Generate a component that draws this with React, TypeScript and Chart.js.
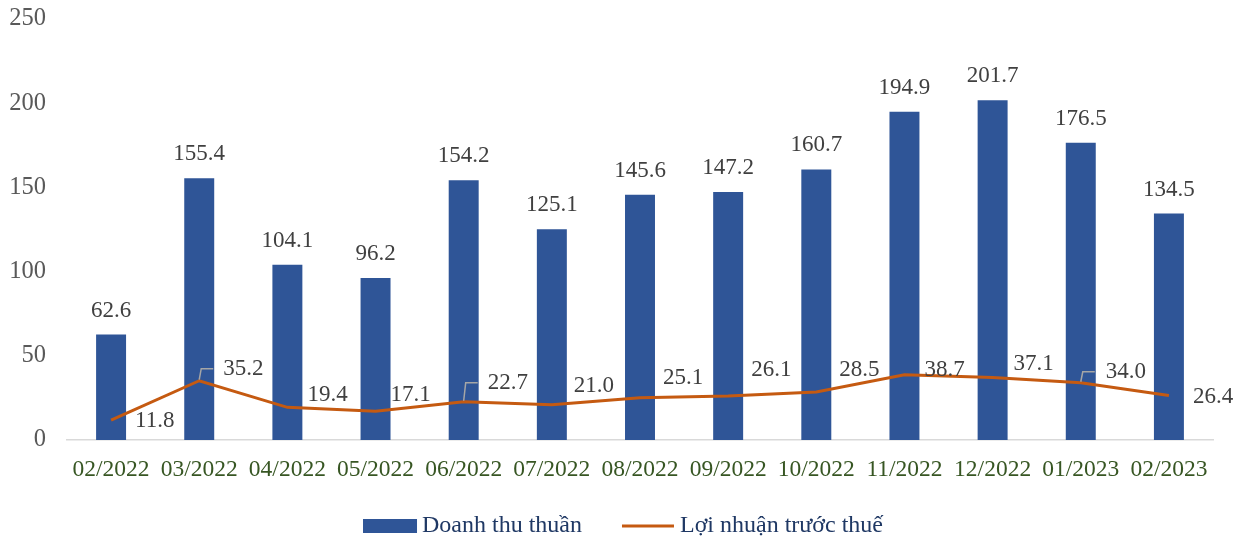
import React, { useEffect, useRef } from "react";
import { Chart, registerables } from "chart.js";

Chart.register(...registerables);

const months = ["02/2022", "03/2022", "04/2022", "05/2022", "06/2022", "07/2022", "08/2022", "09/2022", "10/2022", "11/2022", "12/2022", "01/2023", "02/2023"];
const revenue = [62.6, 155.4, 104.1, 96.2, 154.2, 125.1, 145.6, 147.2, 160.7, 194.9, 201.7, 176.5, 134.5];
const profit = [11.8, 35.2, 19.4, 17.1, 22.7, 21.0, 25.1, 26.1, 28.5, 38.7, 37.1, 34.0, 26.4];
const seriesNames = ["Doanh thu thuần", "Lợi nhuận trước thuế"];
const yTicks = [0, 50, 100, 150, 200, 250];

// label placement for the line series (offset from each point), and which have leader lines
const profitLabelDx = [24, 24, 20, 15, 24, 22, 23, 23, 23, 20, 21, 25, 24];
const profitLabelDy = [1, -12, -12, -16, -19, -19, -20, -26, -22, -5, -14, -11, 1];
const leaderIdx = [1, 4, 11];

const FONT = '"Liberation Serif", "Times New Roman", serif';
const BAR_COLOR = "#2F5597";
const LINE_COLOR = "#C55A11";

const labelPlugin = {
  id: "customLabels",
  afterDatasetsDraw(chart: any) {
    const ctx = chart.ctx;
    ctx.save();
    ctx.font = `23px ${FONT}`;
    ctx.fillStyle = "#404040";
    const barMeta = chart.getDatasetMeta(0);
    ctx.textAlign = "center";
    ctx.textBaseline = "middle";
    barMeta.data.forEach((el: any, i: number) => {
      ctx.fillText(revenue[i].toFixed(1), el.x, el.y - 24);
    });
    const lineMeta = chart.getDatasetMeta(1);
    ctx.textAlign = "left";
    lineMeta.data.forEach((el: any, i: number) => {
      const ly = el.y + profitLabelDy[i];
      if (leaderIdx.includes(i)) {
        ctx.strokeStyle = "#A6A6A6";
        ctx.lineWidth = 1.5;
        ctx.beginPath();
        ctx.moveTo(el.x, el.y - 1);
        ctx.lineTo(el.x + 2, ly);
        ctx.lineTo(el.x + 14, ly);
        ctx.stroke();
      }
      ctx.fillStyle = "#404040";
      ctx.fillText(profit[i].toFixed(1), el.x + profitLabelDx[i], ly);
    });
    ctx.restore();
  },
  afterDraw(chart: any) {
    const ctx = chart.ctx;
    ctx.save();
    ctx.font = `24px ${FONT}`;
    const w1 = ctx.measureText(seriesNames[0]).width;
    const w2 = ctx.measureText(seriesNames[1]).width;
    const boxW = 54, lineW = 52, gap1 = 5, gap2 = 6, spacing = 40;
    const total = boxW + gap1 + w1 + spacing + lineW + gap2 + w2;
    let x = (chart.width - total) / 2;
    const cy = 526;
    ctx.fillStyle = BAR_COLOR;
    ctx.fillRect(x, cy - 7, boxW, 14);
    x += boxW + gap1;
    ctx.fillStyle = "#1F3864";
    ctx.textAlign = "left";
    ctx.textBaseline = "middle";
    ctx.fillText(seriesNames[0], x, cy);
    x += w1 + spacing;
    ctx.strokeStyle = LINE_COLOR;
    ctx.lineWidth = 3;
    ctx.beginPath();
    ctx.moveTo(x, cy);
    ctx.lineTo(x + lineW, cy);
    ctx.stroke();
    x += lineW + gap2;
    ctx.fillText(seriesNames[1], x, cy);
    ctx.restore();
  },
};

export default function App() {
  const ref = useRef<HTMLCanvasElement>(null);
  useEffect(() => {
    document.body.style.margin = "0";
    if (!ref.current) return;
    const chart = new Chart(ref.current, {
      type: "bar",
      data: {
        labels: months,
        datasets: [
          {
            type: "bar",
            label: seriesNames[0],
            data: revenue,
            backgroundColor: BAR_COLOR,
            categoryPercentage: 1,
            barPercentage: 0.34,
            order: 2,
          },
          {
            type: "line",
            label: seriesNames[1],
            data: profit,
            borderColor: LINE_COLOR,
            backgroundColor: LINE_COLOR,
            borderWidth: 3,
            pointRadius: 0,
            tension: 0,
            order: 1,
          } as any,
        ],
      },
      options: {
        animation: false,
        responsive: false,
        maintainAspectRatio: false,
        layout: { padding: { top: 19, right: 33, bottom: 60, left: 0 } },
        plugins: { legend: { display: false }, tooltip: { enabled: false } },
        scales: {
          x: {
            grid: { display: false },
            border: { color: "#D9D9D9", width: 1.5 },
            ticks: { color: "#375623", font: { family: FONT, size: 23.5 }, padding: 8, maxRotation: 0 },
            afterFit: (s: any) => { s.height = 40; s.paddingLeft = 0; s.paddingRight = 0; },
          },
          y: {
            min: yTicks[0],
            max: yTicks[yTicks.length - 1],
            grid: { display: false },
            border: { display: false },
            afterBuildTicks: (s: any) => { s.ticks = yTicks.map((v) => ({ value: v })); },
            ticks: { color: "#595959", font: { family: FONT, size: 24.5 }, padding: 13 },
            afterFit: (s: any) => { s.width = 67; s.paddingTop = 0; s.paddingBottom = 0; },
          },
        },
      },
      plugins: [labelPlugin],
    });
    return () => chart.destroy();
  }, []);
  return <canvas ref={ref} width={1246} height={540} style={{ display: "block" }} />;
}
